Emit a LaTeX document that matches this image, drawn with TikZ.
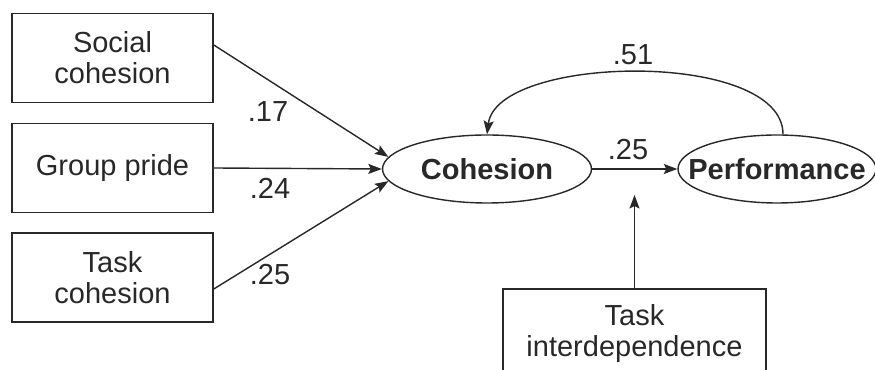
\documentclass[tikz,border=0pt]{standalone}
\usepackage{fontspec}
\setmainfont{Liberation Sans}
\usetikzlibrary{positioning,arrows.meta,shapes.geometric}
\definecolor{pathGray}{RGB}{40,40,40}

\tikzset{
  factor/.style={draw=pathGray, line width=0.9pt, minimum width=4.02cm, minimum height=1.78cm, align=center, inner sep=2pt, text=pathGray},
  latent/.style={draw=pathGray, ellipse, line width=0.8pt, minimum width=4.18cm, minimum height=1.36cm, inner sep=0pt, font=\fontsize{16.5}{17.6}\selectfont\bfseries, text=pathGray},
  pathArrow/.style={draw=pathGray, line width=0.8pt, -{Stealth[length=0.27cm,width=0.2cm,inset=0.05cm]}},
  coef/.style={text=pathGray}
}

\begin{document}
\begin{tikzpicture}[font=\fontsize{16.5}{17.6}\selectfont]
  \useasboundingbox (0,0) rectangle (17.5,7.4);

  % Predictors
  \node[factor] (soc)   at (2.25,6.24) {Social\\cohesion};
  \node[factor] (pride) at (2.25,4.04) {Group pride};
  \node[factor] (task)  at (2.25,1.85) {Task\\cohesion};

  % Latent variables
  \node[latent] (coh) at (9.74,4.02) {Cohesion};
  \node[latent, minimum width=3.96cm, inner xsep=-0.75cm] (perf) at (15.54,4.02) {Performance};

  % Moderator
  \node[factor, minimum width=5.26cm, anchor=north] (inter) at (12.69,1.64) {Task\\interdependence};
  \coordinate (mod) at (12.69,3.5);

  % Paths into cohesion
  \draw[pathArrow] ([yshift=0.26cm]soc.east) -- (coh.173);
  \draw[pathArrow] (pride.east) -- (coh.west);
  \draw[pathArrow] ([yshift=-0.23cm]task.east) -- (coh.187);

  % Cohesion -> performance and feedback
  \draw[pathArrow] (coh.east) -- (perf.west);
  \draw[pathArrow] ([xshift=0.12cm]perf.north) .. controls +(0,1.7) and +(0.2,1.6) .. (coh.north);
  \draw[pathArrow] (inter.north) -- (mod);

  % Coefficients
  \node[coef] at (5.36,5.16) {.17};
  \node[coef] at (5.40,3.64) {.24};
  \node[coef] at (5.40,1.90) {.25};
  \node[coef] at (12.66,6.30) {.51};
  \node[coef] at (12.56,4.40) {.25};
\end{tikzpicture}
\end{document}
